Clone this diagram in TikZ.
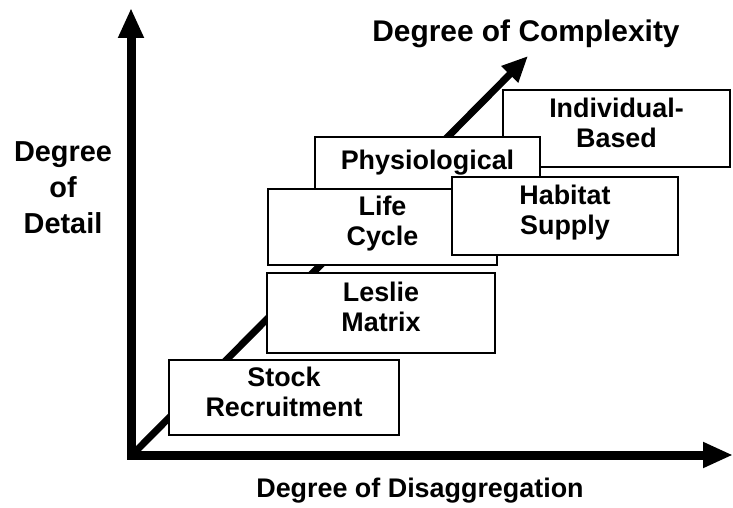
\documentclass[tikz,border=0pt]{standalone}
\usepackage{fontspec}
\setmainfont{Liberation Sans}
\usetikzlibrary{positioning,arrows.meta,calc}
\begin{document}
\begin{tikzpicture}[x=1bp, y=-1bp]
% Definition of blocks:
\tikzset{%
  block/.style = {draw, line width=1.8bp, rectangle, fill=white, minimum width=228bp, minimum height=76bp, inner sep=0pt, align=center, text depth=12bp, font=\fontsize{27}{30}\selectfont\bfseries},
  axis/.style  = {line width=9bp, line cap=rect, -{Triangle[length=30bp, width=24bp]}}, % Axes
  diag/.style  = {line width=7bp, -{Triangle[length=26bp, width=22bp]}}, % Complexity
  title/.style = {align=center, inner sep=0pt, font=\fontsize{27}{36}\selectfont\bfseries}
}
\useasboundingbox (0,0) rectangle (733,508);

\coordinate (Origin) at (131,455);
\coordinate (Top) at (131,8);
\coordinate (Right) at (733,455);
\coordinate (Cplx) at (528,56);

\draw[diag] ($(Origin)+(5,-4)$) -- (Cplx);

\draw
	node [block, minimum width=227bp, minimum height=77bp] (Indiv) at (616.5,128.5) {Individual-\\Based}
	node [block, minimum width=225bp, anchor=north, inner ysep=7bp, text height=20bp, text depth=30bp] (Physio) at (427.5,136) {Physiological}
	node [block, minimum width=229bp] (Life) at (382.5,227) {Life\\Cycle}
	node [block, minimum width=226bp, minimum height=78bp] (Habitat) at (565,216) {Habitat\\Supply}
	node [block, minimum height=80bp] (Leslie) at (381,313) {Leslie\\Matrix}
	node [block, minimum width=230bp, minimum height=75bp] (Stock) at (284,397.5) {Stock\\Recruitment};

\draw[axis] (Origin) -- (Top);
\draw[axis] (Origin) -- (Right);

\draw
	node [title, font=\fontsize{30}{36}\selectfont\bfseries] (Complexity) at (526,34) {Degree of Complexity}
	node [title, font=\fontsize{29}{36}\selectfont\bfseries] (Detail) at (63,188) {Degree\\of\\Detail}
	node [title] (Disagg) at (420,491) {Degree of Disaggregation};

\end{tikzpicture}
\end{document}
